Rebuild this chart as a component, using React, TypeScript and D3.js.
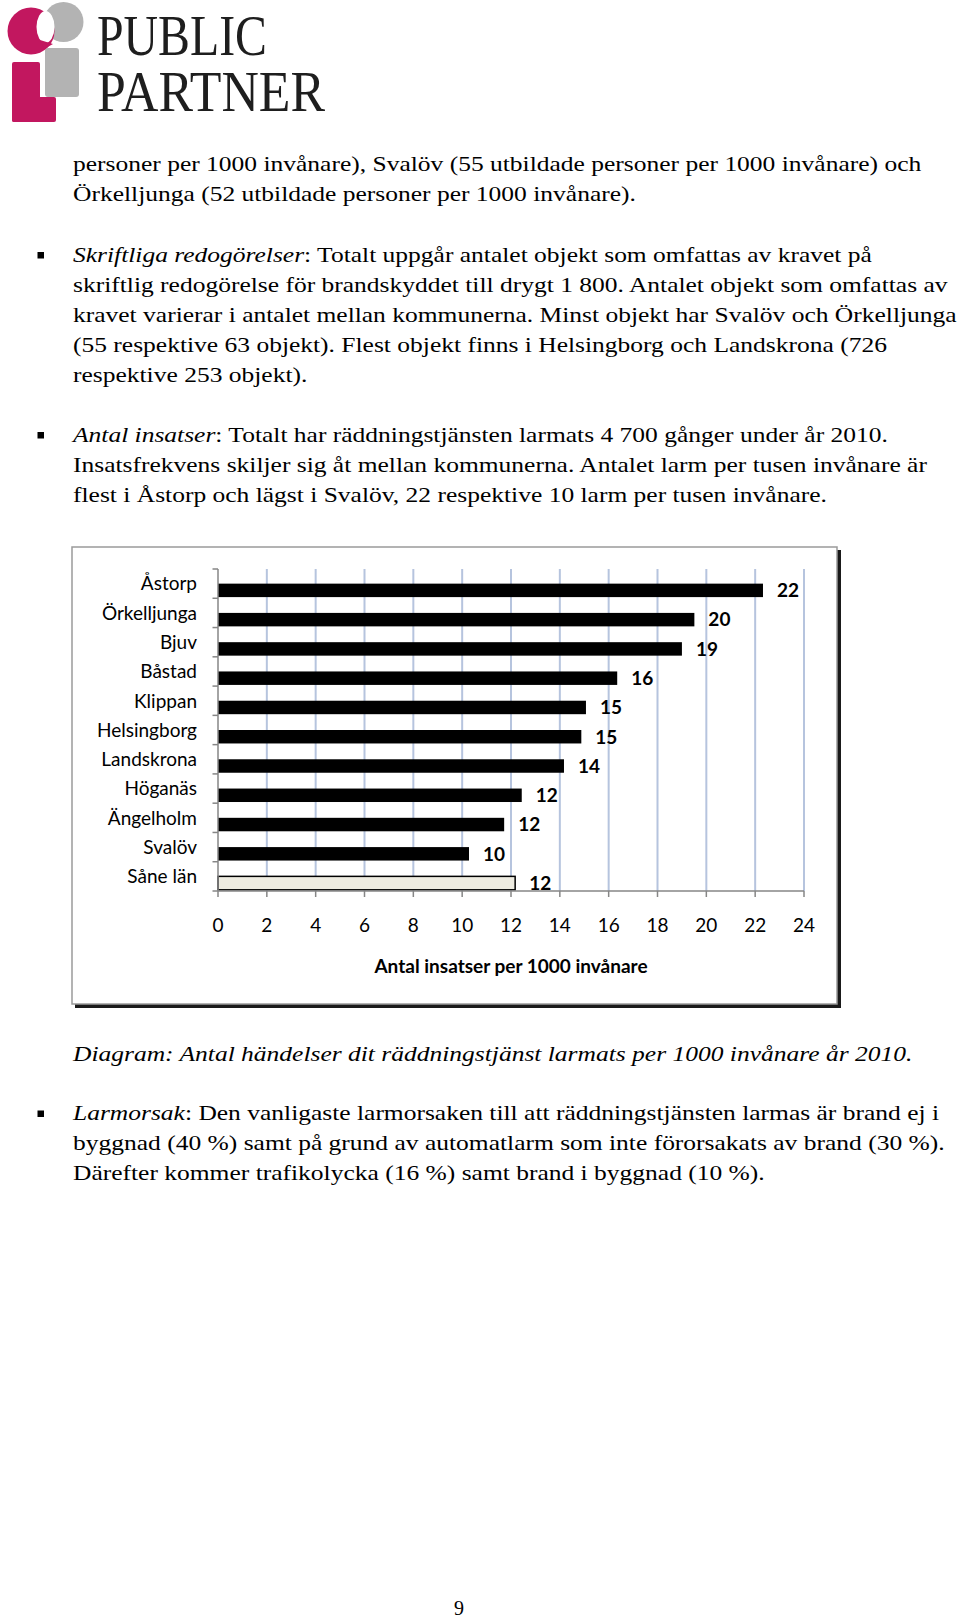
import React, { useEffect } from "react";
import * as d3 from "d3";

const categories = [
  "Åstorp",
  "Örkelljunga",
  "Bjuv",
  "Båstad",
  "Klippan",
  "Helsingborg",
  "Landskrona",
  "Höganäs",
  "Ängelholm",
  "Svalöv",
  "Såne län",
];
const values = [22.32, 19.51, 19.0, 16.35, 15.07, 14.88, 14.17, 12.44, 11.72, 10.28, 12.17];
const xTicks = [0, 2, 4, 6, 8, 10, 12, 14, 16, 18, 20, 22, 24];
const axisTitle = "Antal insatser per 1000 invånare";

type Seg = { t: string; i?: boolean };
const paragraphs: { bullet?: boolean; lines: Seg[][]; y: number }[] = [
  {
    y: 171.5,
    lines: [
      [{ t: "personer per 1000 invånare), Svalöv (55 utbildade personer per 1000 invånare) och" }],
      [{ t: "Örkelljunga (52 utbildade personer per 1000 invånare)." }],
    ],
  },
  {
    y: 262,
    bullet: true,
    lines: [
      [{ t: "Skriftliga redogörelser", i: true }, { t: ": Totalt uppgår antalet objekt som omfattas av kravet på" }],
      [{ t: "skriftlig redogörelse för brandskyddet till drygt 1 800. Antalet objekt som omfattas av" }],
      [{ t: "kravet varierar i antalet mellan kommunerna. Minst objekt har Svalöv och Örkelljunga" }],
      [{ t: "(55 respektive 63 objekt). Flest objekt finns i Helsingborg och Landskrona (726" }],
      [{ t: "respektive 253 objekt)." }],
    ],
  },
  {
    y: 442,
    bullet: true,
    lines: [
      [{ t: "Antal insatser", i: true }, { t: ": Totalt har räddningstjänsten larmats 4 700 gånger under år 2010." }],
      [{ t: "Insatsfrekvens skiljer sig åt mellan kommunerna. Antalet larm per tusen invånare är" }],
      [{ t: "flest i Åstorp och lägst i Svalöv, 22 respektive 10 larm per tusen invånare." }],
    ],
  },
  {
    y: 1061,
    lines: [[{ t: "Diagram: Antal händelser dit räddningstjänst larmats per 1000 invånare år 2010.", i: true }]],
  },
  {
    y: 1120.5,
    bullet: true,
    lines: [
      [{ t: "Larmorsak", i: true }, { t: ": Den vanligaste larmorsaken till att räddningstjänsten larmas är brand ej i" }],
      [{ t: "byggnad (40 %) samt på grund av automatlarm som inte förorsakats av brand (30 %)." }],
      [{ t: "Därefter kommer trafikolycka (16 %) samt brand i byggnad (10 %)." }],
    ],
  },
];

const W = 960;
const H = 1621;
const bodyFont = "'Liberation Serif', 'Times New Roman', serif";
const chartFont = "Lato, 'Open Sans', sans-serif";
const textLeft = 73;
const bodySize = 21.5;
const hStretch = 1.1866;

export default function App() {
  useEffect(() => {
    document.body.style.margin = "0";
  }, []);

  const x = d3.scaleLinear().domain([0, 24]).range([218, 804]);
  const y = d3.scaleBand<string>().domain(categories).range([569, 891]).paddingInner(0).paddingOuter(0);
  const bw = y.bandwidth();
  const fmt = d3.format(".0f");
  const lineH = 30;

  return (
    <svg width={W} height={H} style={{ position: "absolute", left: 0, top: 0, display: "block" }}>
      <rect x={0} y={0} width={W} height={H} fill="#ffffff" />
      {/* Logo */}
      <g>
        <circle cx={63.5} cy={22} r={20} fill="#b3b3b3" />
        <rect x={45} y={48} width={34} height={49} rx={3} fill="#b3b3b3" />
        <circle cx={31} cy={31} r={23.5} fill="#c2175f" />
        <ellipse cx={45.5} cy={27} rx={9} ry={16} fill="#ffffff" />
        <path d="M40,40 L53,44 L44,49 Z" fill="#c2175f" />
        <rect x={12} y={62} width={28} height={60} rx={2} fill="#c2175f" />
        <rect x={12} y={97} width={44} height={25} rx={2} fill="#c2175f" />
        <text x={97} y={55} fontFamily={bodyFont} fontSize={56} fill="#1e1e1e" textLength={170} lengthAdjust="spacingAndGlyphs">
          PUBLIC
        </text>
        <text x={97} y={111} fontFamily={bodyFont} fontSize={56} fill="#1e1e1e" textLength={228} lengthAdjust="spacingAndGlyphs">
          PARTNER
        </text>
      </g>

      {/* Body text */}
      {paragraphs.map((p, pi) => (
        <g key={pi}>
          {p.bullet && <rect x={37.5} y={p.y - 10} width={6.5} height={6.5} fill="#000" />}
          <g transform={`translate(${textLeft},0) scale(${hStretch},1) translate(${-textLeft},0)`}>
            {p.lines.map((ln, li) => (
              <text key={li} x={textLeft} y={p.y + li * lineH} fontFamily={bodyFont} fontSize={bodySize} fill="#000">
                {ln.map((s, si) => (
                  <tspan key={si} fontStyle={s.i ? "italic" : "normal"}>
                    {s.t}
                  </tspan>
                ))}
              </text>
            ))}
          </g>
        </g>
      ))}

      {/* Chart frame */}
      <rect x={75} y={550} width={766} height={458} fill="#1a1a1a" />
      <rect x={72} y={547} width={765} height={457} fill="#ffffff" stroke="#9a9a9a" strokeWidth={1.5} />

      {/* Gridlines */}
      {xTicks.filter((t) => t > 0).map((t) => (
        <line key={t} x1={x(t)} x2={x(t)} y1={569} y2={891} stroke="#b6c4de" strokeWidth={2} />
      ))}

      {/* Bars */}
      {categories.map((c, i) => {
        const last = i === categories.length - 1;
        const by = (y(c) as number) + bw * 0.5;
        const bh = bw * 0.46;
        return (
          <g key={c}>
            <rect
              x={x(0)}
              y={by}
              width={x(values[i]) - x(0)}
              height={bh}
              fill={last ? "#eeece1" : "#000000"}
              stroke={last ? "#000000" : "none"}
              strokeWidth={last ? 1.5 : 0}
            />
            <text
              x={x(values[i]) + 14}
              y={by + bh / 2}
              dy="0.36em"
              fontFamily={chartFont}
              fontWeight={700}
              fontSize={19}
              fill="#000"
            >
              {fmt(values[i])}
            </text>
            <text
              x={197}
              y={(y(c) as number) + bw / 2}
              dy="0.36em"
              textAnchor="end"
              fontFamily={chartFont}
              fontSize={19}
              fill="#000"
            >
              {c}
            </text>
          </g>
        );
      })}

      {/* Axes */}
      <line x1={x(0)} x2={x(0)} y1={569} y2={891} stroke="#868686" strokeWidth={1.5} />
      {d3.range(categories.length + 1).map((k) => {
        const yy = 569 + k * bw;
        return <line key={k} x1={212.5} x2={x(0)} y1={yy} y2={yy} stroke="#868686" strokeWidth={1.5} />;
      })}
      <line x1={x(0)} x2={x(24)} y1={891} y2={891} stroke="#868686" strokeWidth={1.5} />
      {xTicks.map((t) => (
        <g key={t}>
          <line x1={x(t)} x2={x(t)} y1={891} y2={897} stroke="#868686" strokeWidth={1.5} />
          <text x={x(t)} y={925} dy="0.36em" textAnchor="middle" fontFamily={chartFont} fontSize={19} fill="#000">
            {t}
          </text>
        </g>
      ))}
      <text x={(x(0) + x(24)) / 2} y={966.5} dy="0.36em" textAnchor="middle" fontFamily={chartFont} fontWeight={700} fontSize={19} fill="#000">
        {axisTitle}
      </text>

      {/* Page number */}
      <text x={459} y={1615} textAnchor="middle" fontFamily={bodyFont} fontSize={20} fill="#000">
        9
      </text>
    </svg>
  );
}
